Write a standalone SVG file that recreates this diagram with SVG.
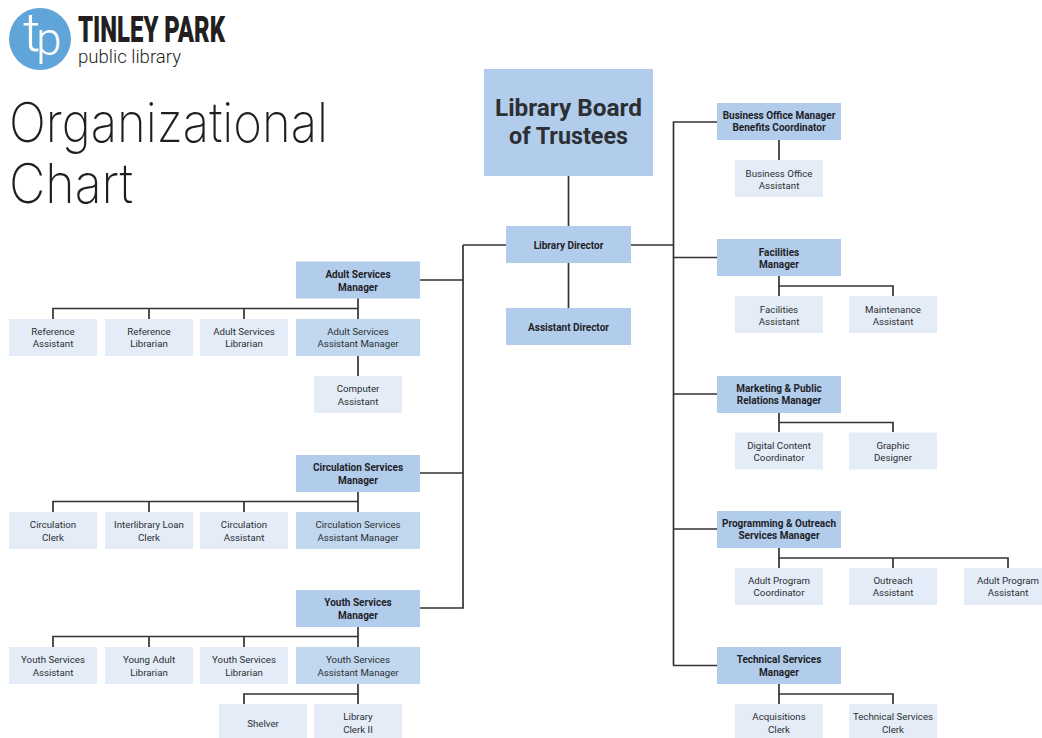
<svg xmlns="http://www.w3.org/2000/svg" width="1042" height="738" viewBox="0 0 1042 738">
<style>
text{font-family:Roboto,"Liberation Sans",sans-serif;text-anchor:middle;fill:#2c2f33}
.t{font-size:9.700px}
.b{font-size:10px;font-weight:700;fill:#1f2227}
.m{fill:#b2cdeb}
.a{fill:#c0d7ee}
.c{fill:#e4ecf7}
.l{fill:none;stroke:#333;stroke-width:1.700}
.h{font-family:Inter,Roboto,sans-serif;text-anchor:start;font-weight:200;font-size:55px;fill:#1f1f1f}
</style>
<rect width="1042" height="738" fill="#fff"/>
<g id="logo">
<circle cx="40" cy="39" r="31" fill="#5fa5da"/>
<text x="23" y="51" style="text-anchor:start;font-size:54px;font-weight:300;fill:#fff">t</text>
<text x="36" y="55" style="text-anchor:start;font-size:46px;font-weight:300;fill:#fff">p</text>
<text x="78" y="42" textLength="147" lengthAdjust="spacingAndGlyphs" style="text-anchor:start;font-size:36px;font-weight:900;fill:#231f20">TINLEY PARK</text>
<text x="78" y="63" textLength="103" lengthAdjust="spacingAndGlyphs" style="text-anchor:start;font-size:19px;font-weight:300;fill:#231f20">public library</text>
</g>
<g id="title">
<text class="h" x="9" y="142" textLength="319" lengthAdjust="spacingAndGlyphs">Organizational</text>
<text class="h" x="9" y="203" textLength="124" lengthAdjust="spacingAndGlyphs">Chart</text>
</g>
<g id="connectors">
<path class="l" d="M568.500 176V308M420 280H463M420 473H463M420 608H463M463 245V608.800M463 245H506M631 245H673.500M673.500 121.500V665.500M673 122H717M673 257.500H717M673 394H717M673 529H717M673 665.500H717"/>
<path class="l" d="M358 298V376M53 319V308.500H358M149 308.500V319M244 308.500V319"/>
<path class="l" d="M358 492V512M53 512V501.500H358M149 501.500V512M244 501.500V512"/>
<path class="l" d="M358 627V647M53 647V636.500H358M149 636.500V647M244 636.500V647M358 684V704M244 704V694H358"/>
<path class="l" d="M779 140V160M779 276V296M893 296V286H779M779 413V432M893 432V422.500H779M779 548V568M893 568V558H779M1008 568V558H893M779 684V704M893 704V694H779"/>
</g>
<g id="board"><rect class="m" x="484" y="69" width="169" height="107"/><text x="568.500" y="116" textLength="147" lengthAdjust="spacingAndGlyphs" style="font-size:24px;font-weight:700">Library Board</text><text x="568.500" y="144" textLength="119" lengthAdjust="spacingAndGlyphs" style="font-size:24px;font-weight:700">of Trustees</text></g>
<g id="director"><rect class="m" x="506" y="226" width="125" height="37"/><text class="b" x="568.500" y="249">Library Director</text></g>
<g id="assistant-director"><rect class="m" x="506" y="308" width="125" height="37"/><text class="b" x="568.500" y="331">Assistant Director</text></g>

<g id="adult-manager"><rect class="m" x="296" y="261.500" width="124" height="37"/><text class="b" x="358" y="278">Adult Services</text><text class="b" x="358" y="290.500">Manager</text></g>
<g id="reference-assistant"><rect class="c" x="9" y="319" width="88" height="37"/><text class="t" x="53" y="335">Reference</text><text class="t" x="53" y="347">Assistant</text></g>
<g id="reference-librarian"><rect class="c" x="105" y="319" width="88" height="37"/><text class="t" x="149" y="335">Reference</text><text class="t" x="149" y="347">Librarian</text></g>
<g id="adult-librarian"><rect class="c" x="200" y="319" width="88" height="37"/><text class="t" x="244" y="335">Adult Services</text><text class="t" x="244" y="347">Librarian</text></g>
<g id="adult-assistant-manager"><rect class="a" x="296" y="319" width="124" height="37"/><text class="t" x="358" y="335">Adult Services</text><text class="t" x="358" y="347">Assistant Manager</text></g>
<g id="computer-assistant"><rect class="c" x="314" y="376" width="88" height="37"/><text class="t" x="358" y="392">Computer</text><text class="t" x="358" y="404.500">Assistant</text></g>

<g id="circulation-manager"><rect class="m" x="296" y="455" width="124" height="37"/><text class="b" x="358" y="471">Circulation Services</text><text class="b" x="358" y="483.500">Manager</text></g>
<g id="circulation-clerk"><rect class="c" x="9" y="512" width="88" height="37"/><text class="t" x="53" y="528">Circulation</text><text class="t" x="53" y="540.500">Clerk</text></g>
<g id="ill-clerk"><rect class="c" x="105" y="512" width="88" height="37"/><text class="t" x="149" y="528">Interlibrary Loan</text><text class="t" x="149" y="540.500">Clerk</text></g>
<g id="circulation-assistant"><rect class="c" x="200" y="512" width="88" height="37"/><text class="t" x="244" y="528">Circulation</text><text class="t" x="244" y="540.500">Assistant</text></g>
<g id="circulation-assistant-manager"><rect class="a" x="296" y="512" width="124" height="37"/><text class="t" x="358" y="528">Circulation Services</text><text class="t" x="358" y="540.500">Assistant Manager</text></g>

<g id="youth-manager"><rect class="m" x="296" y="590" width="124" height="37"/><text class="b" x="358" y="606">Youth Services</text><text class="b" x="358" y="618.500">Manager</text></g>
<g id="youth-assistant"><rect class="c" x="9" y="647" width="88" height="37"/><text class="t" x="53" y="663">Youth Services</text><text class="t" x="53" y="675.500">Assistant</text></g>
<g id="ya-librarian"><rect class="c" x="105" y="647" width="88" height="37"/><text class="t" x="149" y="663">Young Adult</text><text class="t" x="149" y="675.500">Librarian</text></g>
<g id="youth-librarian"><rect class="c" x="200" y="647" width="88" height="37"/><text class="t" x="244" y="663">Youth Services</text><text class="t" x="244" y="675.500">Librarian</text></g>
<g id="youth-assistant-manager"><rect class="a" x="296" y="647" width="124" height="37"/><text class="t" x="358" y="663">Youth Services</text><text class="t" x="358" y="675.500">Assistant Manager</text></g>
<g id="shelver"><rect class="c" x="219" y="704" width="88" height="34"/><text class="t" x="263" y="726.500">Shelver</text></g>
<g id="library-clerk"><rect class="c" x="314" y="704" width="88" height="34"/><text class="t" x="358" y="720">Library</text><text class="t" x="358" y="732.500">Clerk II</text></g>

<g id="business-manager"><rect class="m" x="717" y="103" width="124" height="37"/><text class="b" x="779" y="119">Business Office Manager</text><text class="b" x="779" y="131">Benefits Coordinator</text></g>
<g id="business-assistant"><rect class="c" x="735" y="160" width="88" height="37"/><text class="t" x="779" y="176.500">Business Office</text><text class="t" x="779" y="188.500">Assistant</text></g>
<g id="facilities-manager"><rect class="m" x="717" y="239" width="124" height="37"/><text class="b" x="779" y="255.500">Facilities</text><text class="b" x="779" y="267.500">Manager</text></g>
<g id="facilities-assistant"><rect class="c" x="735" y="296" width="88" height="37"/><text class="t" x="779" y="312.500">Facilities</text><text class="t" x="779" y="324.500">Assistant</text></g>
<g id="maintenance-assistant"><rect class="c" x="849" y="296" width="88" height="37"/><text class="t" x="893" y="312.500">Maintenance</text><text class="t" x="893" y="324.500">Assistant</text></g>
<g id="marketing-manager"><rect class="m" x="717" y="376" width="124" height="37"/><text class="b" x="779" y="392">Marketing &amp; Public</text><text class="b" x="779" y="404">Relations Manager</text></g>
<g id="digital-coordinator"><rect class="c" x="735" y="432.500" width="88" height="37"/><text class="t" x="779" y="449">Digital Content</text><text class="t" x="779" y="461">Coordinator</text></g>
<g id="graphic-designer"><rect class="c" x="849" y="432.500" width="88" height="37"/><text class="t" x="893" y="449">Graphic</text><text class="t" x="893" y="461">Designer</text></g>
<g id="programming-manager"><rect class="m" x="717" y="511" width="124" height="37"/><text class="b" x="779" y="527">Programming &amp; Outreach</text><text class="b" x="779" y="539">Services Manager</text></g>
<g id="adult-program-coordinator"><rect class="c" x="735" y="568" width="88" height="37"/><text class="t" x="779" y="584">Adult Program</text><text class="t" x="779" y="596">Coordinator</text></g>
<g id="outreach-assistant"><rect class="c" x="849" y="568" width="88" height="37"/><text class="t" x="893" y="584">Outreach</text><text class="t" x="893" y="596">Assistant</text></g>
<g id="adult-program-assistant"><rect class="c" x="964" y="568" width="78" height="37"/><text class="t" x="1008" y="584">Adult Program</text><text class="t" x="1008" y="596">Assistant</text></g>
<g id="technical-manager"><rect class="m" x="717" y="647" width="124" height="37"/><text class="b" x="779" y="663">Technical Services</text><text class="b" x="779" y="675.500">Manager</text></g>
<g id="acquisitions-clerk"><rect class="c" x="735" y="704" width="88" height="34"/><text class="t" x="779" y="720">Acquisitions</text><text class="t" x="779" y="732.500">Clerk</text></g>
<g id="technical-clerk"><rect class="c" x="849" y="704" width="88" height="34"/><text class="t" x="893" y="720">Technical Services</text><text class="t" x="893" y="732.500">Clerk</text></g>
</svg>
